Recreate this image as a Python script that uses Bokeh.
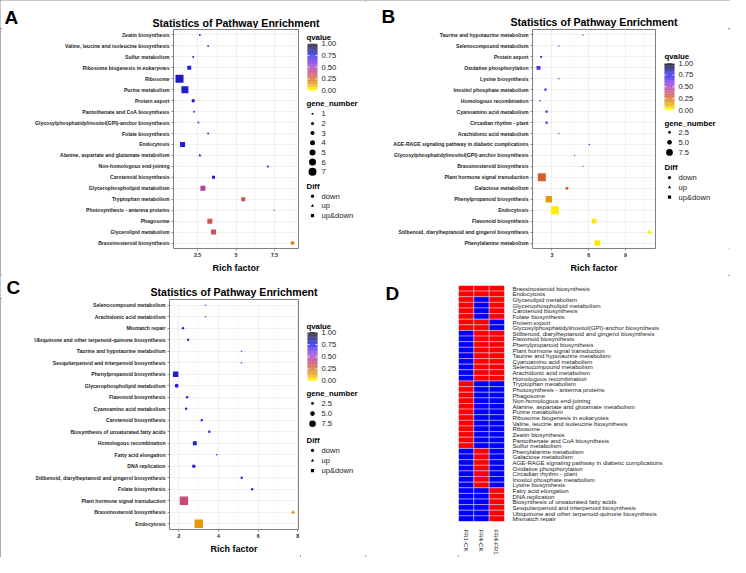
import math
import numpy as np
from bokeh.plotting import figure
from bokeh.models import Range1d, FixedTicker, ColumnDataSource, LinearInterpolator
from bokeh.transform import linear_cmap, factor_mark, transform
from bokeh.layouts import row, column
from bokeh.embed import file_html
from bokeh.resources import INLINE
from bokeh.core.properties import value

FONT = "Liberation Sans"
TITLE = "Statistics of Pathway Enrichment"
NOSHRINK = {"flex-shrink": "0", "flex-grow": "0"}

# ---------------- Panel A data ----------------
a_paths = ["Zeatin biosynthesis", "Valine, leucine and isoleucine biosynthesis", "Sulfur metabolism",
           "Ribosome biogenesis in eukaryotes", "Ribosome", "Purine metabolism", "Protein export",
           "Pantothenate and CoA biosynthesis", "Glycosylphosphatidylinositol(GPI)-anchor biosynthesis",
           "Folate biosynthesis", "Endocytosis", "Alanine, aspartate and glutamate metabolism",
           "Non-homologous end-joining", "Carotenoid biosynthesis", "Glycerophospholipid metabolism",
           "Tryptophan metabolism", "Photosynthesis - antenna proteins", "Phagosome",
           "Glycerolipid metabolism", "Brassinosteroid biosynthesis"]
a_rich = [2.65, 3.19, 2.22, 1.96, 1.33, 1.68, 2.22, 2.28, 2.56, 3.19, 1.53, 2.65, 7.07, 3.54, 2.85, 5.47, 7.48, 3.30, 3.54, 8.67]
a_genes = [1, 1, 1, 3, 7, 6, 2, 1, 1, 1, 4, 2, 1, 2, 4, 3, 1, 4, 4, 3]
a_q = [0.70, 0.64, 0.70, 0.76, 0.80, 0.79, 0.78, 0.66, 0.64, 0.68, 0.79, 0.77, 0.78, 0.77, 0.45, 0.33, 0.31, 0.33, 0.34, 0.18]
a_diff = ["down", "down", "down", "up&down", "up&down", "up&down", "up&down", "down", "down", "down",
          "up&down", "up", "down", "up&down", "up&down", "up&down", "up", "up&down", "up&down", "down"]
a_ticks = [2.5, 5.0, 7.5]
a_minor = [1.25, 3.75, 6.25, 8.75]
a_size_levels = [1, 2, 3, 4, 5, 6, 7]

# ---------------- Panel B data ----------------
b_paths = ["Taurine and hypotaurine metabolism", "Selenocompound metabolism", "Protein export",
           "Oxidative phosphorylation", "Lysine biosynthesis", "Inositol phosphate metabolism",
           "Homologous recombination", "Cyanoamino acid metabolism", "Circadian rhythm - plant",
           "Arachidonic acid metabolism", "AGE-RAGE signaling pathway in diabetic complications",
           "Glycosylphosphatidylinositol(GPI)-anchor biosynthesis", "Brassinosteroid biosynthesis",
           "Plant hormone signal transduction", "Galactose metabolism", "Phenylpropanoid biosynthesis",
           "Endocytosis", "Flavonoid biosynthesis", "Stilbenoid, diarylheptanoid and gingerol biosynthesis",
           "Phenylalanine metabolism"]
b_rich = [5.54, 3.57, 2.12, 1.91, 3.57, 2.48, 2.02, 2.57, 2.57, 3.57, 6.05, 4.86, 5.54, 2.18, 4.23, 2.75, 3.25, 6.44, 10.96, 6.71]
b_genes = [1, 1, 2, 4, 1, 2, 2, 2, 2, 1, 1, 1, 1, 9, 3, 7, 9, 5, 5, 6]
b_q = [0.64, 0.62, 0.68, 0.66, 0.62, 0.66, 0.68, 0.66, 0.66, 0.62, 0.74, 0.38, 0.38, 0.27, 0.27, 0.15, 0.02, 0.03, 0.03, 0.03]
b_diff = ["down", "down", "down", "up&down", "down", "up&down", "up", "up&down", "up&down", "down",
          "down", "down", "down", "up&down", "down", "up&down", "up&down", "up&down", "up", "up&down"]
b_ticks = [3, 6, 9]
b_minor = [1.5, 4.5, 7.5, 10.5]
b_size_levels = [2.5, 5.0, 7.5]

# ---------------- Panel C data ----------------
c_paths = ["Selenocompound metabolism", "Arachidonic acid metabolism", "Mismatch repair",
           "Ubiquinone and other terpenoid-quinone biosynthesis", "Taurine and hypotaurine metabolism",
           "Sesquiterpenoid and triterpenoid biosynthesis", "Phenylpropanoid biosynthesis",
           "Glycerophospholipid metabolism", "Flavonoid biosynthesis", "Cyanoamino acid metabolism",
           "Carotenoid biosynthesis", "Biosynthesis of unsaturated fatty acids", "Homologous recombination",
           "Fatty acid elongation", "DNA replication", "Stilbenoid, diarylheptanoid and gingerol biosynthesis",
           "Folate biosynthesis", "Plant hormone signal transduction", "Brassinosteroid biosynthesis",
           "Endocytosis"]
c_rich = [3.34, 3.34, 2.20, 2.46, 5.16, 5.16, 1.83, 1.88, 2.41, 2.36, 3.15, 3.53, 2.80, 3.91, 2.75, 5.17, 5.70, 2.25, 7.77, 3.00]
c_genes = [1, 1, 2, 2, 1, 1, 6, 4, 2, 2, 2, 2, 4, 1, 3, 2, 2, 10, 4, 10]
c_q = [0.62, 0.62, 0.76, 0.73, 0.60, 0.60, 0.79, 0.77, 0.76, 0.76, 0.76, 0.76, 0.78, 0.73, 0.78, 0.75, 0.74, 0.38, 0.17, 0.15]
c_diff = ["down", "down", "down", "down", "down", "down", "up&down", "down", "down", "down",
          "down", "down", "up&down", "down", "up&down", "down", "down", "up&down", "up", "up&down"]
c_ticks = [2, 4, 6, 8]
c_minor = [3, 5, 7]
c_size_levels = [2.5, 5.0, 7.5]

q_ticks = [1.00, 0.75, 0.50, 0.25, 0.00]
q_tick_labels = ["1.00", "0.75", "0.50", "0.25", "0.00"]
diff_levels = ["down", "up", "up&down"]
diff_markers = ["circle", "triangle", "square"]

# ---------------- Panel D data ----------------
d_rows = ["Brassinosteroid biosynthesis", "Endocytosis", "Glycerolipid metabolism", "Glycerophospholipid metabolism",
          "Carotenoid biosynthesis", "Folate biosynthesis", "Protein export",
          "Glycosylphosphatidylinositol(GPI)-anchor biosynthesis",
          "Stilbenoid, diarylheptanoid and gingerol biosynthesis", "Flavonoid biosynthesis",
          "Phenylpropanoid biosynthesis", "Plant hormone signal transduction", "Taurine and hypotaurine metabolism",
          "Cyanoamino acid metabolism", "Selenocompound metabolism", "Arachidonic acid metabolism",
          "Homologous recombination", "Tryptophan metabolism", "Photosynthesis - antenna proteins", "Phagosome",
          "Non-homologous end-joining", "Alanine, aspartate and glutamate metabolism", "Purine metabolism",
          "Ribosome biogenesis in eukaryotes", "Valine, leucine and isoleucine biosynthesis", "Ribosome",
          "Zeatin biosynthesis", "Pantothenate and CoA biosynthesis", "Sulfur metabolism",
          "Phenylalanine metabolism", "Galactose metabolism",
          "AGE-RAGE signaling pathway in diabetic complications", "Oxidative phosphorylation",
          "Circadian rhythm - plant", "Inositol phosphate metabolism", "Lysine biosynthesis",
          "Fatty acid elongation", "DNA replication", "Biosynthesis of unsaturated fatty acids",
          "Sesquiterpenoid and triterpenoid biosynthesis", "Ubiquinone and other terpenoid-quinone biosynthesis",
          "Mismatch repair"]
d_cols = ["FR1-CK", "FR4-CK", "FR4-FR1"]
d_fr1_ck = [1, 1, 1, 1, 1, 1, 1, 1, 0, 0, 0, 0, 0, 0, 0, 0, 0, 1, 1, 1, 1, 1, 1, 1, 1, 1, 1, 1, 1,
            0, 0, 0, 0, 0, 0, 0, 0, 0, 0, 0, 0, 0]
d_fr4_ck = [1, 1, 0, 0, 0, 0, 1, 1, 1, 1, 1, 1, 1, 1, 1, 1, 1, 0, 0, 0, 0, 0, 0, 0, 0, 0, 0, 0, 0,
            1, 1, 1, 1, 1, 1, 1, 0, 0, 0, 0, 0, 0]
d_fr4_fr1 = [1, 1, 1, 1, 1, 1, 0, 0, 1, 1, 1, 1, 1, 1, 1, 1, 1, 0, 0, 0, 0, 0, 0, 0, 0, 0, 0, 0, 0,
             0, 0, 0, 0, 0, 0, 0, 1, 1, 1, 1, 1, 1]

# ---------------- colour scale ----------------
stop_q = [0.0, 0.12, 0.27, 0.42, 0.57, 0.75, 0.9, 1.0]
stop_c = ["#FFFF00", "#E8A400", "#D2602C", "#C2428E", "#8A32E2", "#2020F0", "#1A1070", "#000000"]


def hex2rgb(h):
    return [int(h[i:i + 2], 16) for i in (1, 3, 5)]


def make_palette(n=256):
    rgbs = np.array([hex2rgb(c) for c in stop_c], dtype=float)
    t = np.linspace(0, 1, n)
    out = []
    for tt in t:
        r = np.interp(tt, stop_q, rgbs[:, 0])
        g = np.interp(tt, stop_q, rgbs[:, 1])
        b = np.interp(tt, stop_q, rgbs[:, 2])
        out.append("#%02x%02x%02x" % (int(round(r)), int(round(g)), int(round(b))))
    return out


PALETTE = make_palette()


def blank(W, H):
    # pixel-space helper canvas: x to the right, y measured downwards from the top edge
    f = figure(width=W, height=H, x_range=Range1d(0, W), y_range=Range1d(H, 0),
               output_backend="svg", toolbar_location=None,
               min_border_left=0, min_border_right=0, min_border_top=0, min_border_bottom=0,
               x_axis_location=None, y_axis_location=None, title_location=None, styles=NOSHRINK)
    f.grid.visible = False
    f.outline_line_color = None
    return f


def header(W, H, letter, lx, ly, title, tx, ty):
    h = blank(W, H)
    h.text(x=[lx], y=[ly], text=[letter], text_font=value(FONT), text_font_size=value("19px"),
           text_font_style="bold", text_baseline="bottom", text_align="left", text_color="#000000")
    if title:
        h.text(x=[tx], y=[ty], text=[title], text_font=value(FONT), text_font_size=value("10.6px"),
               text_font_style="bold", text_baseline="alphabetic", text_align="center", text_color="#000000")
    return h


def enrich_panel(paths, rich, genes, q, diff, xr, ticks, minor, size_lin, W, H, left, right, top, bottom):
    cats = list(reversed(paths))
    p = figure(width=W, height=H, y_range=cats, x_range=Range1d(*xr),
               output_backend="svg", toolbar_location=None, title_location=None,
               min_border_left=left, min_border_right=right,
               min_border_top=top, min_border_bottom=bottom, styles=NOSHRINK)
    src = ColumnDataSource(dict(path=paths, rich=rich, genes=genes, q=q, diff=diff))
    p.scatter(x="rich", y="path", source=src,
              size=transform("genes", LinearInterpolator(x=[0, 10], y=size_lin)),
              marker=factor_mark("diff", diff_markers, diff_levels),
              fill_color=linear_cmap("q", PALETTE, 0, 1),
              line_color=None)
    p.xaxis.ticker = FixedTicker(ticks=ticks, minor_ticks=minor)
    p.xgrid.grid_line_color = "#e6e6e6"
    p.xgrid.grid_line_width = 0.6
    p.xgrid.minor_grid_line_color = "#f2f2f2"
    p.xgrid.minor_grid_line_width = 0.5
    p.ygrid.grid_line_color = "#e6e6e6"
    p.ygrid.grid_line_width = 0.6
    p.outline_line_color = "#7f7f7f"
    p.outline_line_width = 1
    for ax in (p.xaxis, p.yaxis):
        ax.axis_line_color = None
        ax.major_tick_out = 2
        ax.major_tick_in = 0
        ax.minor_tick_out = 0
        ax.minor_tick_in = 0
        ax.major_tick_line_color = "#444444"
        ax.major_tick_line_width = 0.6
        ax.major_label_text_font = FONT
        ax.major_label_text_font_style = "bold"
        ax.major_label_text_color = "#1a1a1a"
        ax.major_label_standoff = 2
    p.yaxis.major_label_text_font_size = "5.1px"
    p.xaxis.major_label_text_font_size = "5.2px"
    p.xaxis.axis_label = "Rich factor"
    p.xaxis.axis_label_text_font = FONT
    p.xaxis.axis_label_text_font_size = "9px"
    p.xaxis.axis_label_text_font_style = "bold"
    p.xaxis.axis_label_text_color = "#000000"
    p.xaxis.axis_label_standoff = 3
    return p


def legend_panel(W, H, off, size_levels, size_lin, lay):
    lg = blank(W, H)
    tx, bx0, bx1, lx, sx = lay["tx"], lay["bx0"], lay["bx1"], lay["lx"], lay["sx"]
    b_top, b_bot = lay["bar"][0] - off, lay["bar"][1] - off
    n = 80
    edges = np.linspace(b_top, b_bot, n + 1)
    qs = np.linspace(1, 0, n)
    lg.quad(left="l", right="r", top="t", bottom="b",
            fill_color=linear_cmap("q", PALETTE, 0, 1), line_color=None,
            source=ColumnDataSource(dict(l=[bx0] * n, r=[bx1] * n, t=edges[:-1], b=edges[1:], q=qs)))
    ty = [b_top + (1 - t) * (b_bot - b_top) for t in q_ticks]
    w = (bx1 - bx0) * 0.2
    lg.segment(x0=[bx0] * 5, x1=[bx0 + w] * 5, y0=ty, y1=ty, line_color="white", line_width=0.8)
    lg.segment(x0=[bx1 - w] * 5, x1=[bx1] * 5, y0=ty, y1=ty, line_color="white", line_width=0.8)
    lg.text(x=[lx] * 5, y=ty, text=q_tick_labels, text_font=value(FONT), text_font_size=value("7.6px"),
            text_baseline="middle", text_align="left", text_color="#1a1a1a")
    titles = ["qvalue", "gene_number", "Diff"]
    lg.text(x=[tx] * 3, y=[lay["qt"] - off, lay["gt"] - off, lay["dt"] - off], text=titles,
            text_font=value(FONT), text_font_size=value("7.8px"), text_font_style="bold",
            text_baseline="middle", text_align="left", text_color="#000000")
    gy = [lay["g0"] - off + i * lay["gs"] for i in range(len(size_levels))]
    lg.scatter(x="x", y="y",
               size=transform("g", LinearInterpolator(x=[0, 10], y=size_lin)),
               marker="circle", fill_color="black", line_color=None,
               source=ColumnDataSource(dict(x=[sx] * len(size_levels), y=gy, g=size_levels)))
    glabels = [("%g" % s) if lay.get("int_labels") else ("%.1f" % s) for s in size_levels]
    lg.text(x=[lx] * len(size_levels), y=gy, text=glabels, text_font=value(FONT),
            text_font_size=value("7.6px"), text_baseline="middle", text_align="left", text_color="#1a1a1a")
    dy = [lay["d0"] - off + i * lay["ds"] for i in range(3)]
    lg.scatter(x="x", y="y", size=3.2, marker=factor_mark("d", diff_markers, diff_levels),
               fill_color="black", line_color=None,
               source=ColumnDataSource(dict(x=[sx] * 3, y=dy, d=diff_levels)))
    lg.text(x=[lx] * 3, y=dy, text=diff_levels, text_font=value(FONT), text_font_size=value("7.6px"),
            text_baseline="middle", text_align="left", text_color="#1a1a1a")
    return lg


# geometry
PW = 365
HA, HC = 275, 282
HDA, HDC = 28, 23
sizeA = [1.0, 11.0]
sizeB = [0.6, 8.8]
sizeC = [0.9, 8.4]

hA = header(PW, HDA, "A", 4, 27, TITLE, 173 + 62.5, 22)
pA = enrich_panel(a_paths, a_rich, a_genes, a_q, a_diff, (0.94, 9.06), a_ticks, a_minor, sizeA,
                  299, HA - HDA, 173, 1, 1, 24)
lA = legend_panel(66, HA - HDA, HDA, a_size_levels, sizeA,
                  dict(tx=7, bx0=8, bx1=18, lx=22, sx=13, bar=(44, 97), qt=37, gt=112, g0=123, gs=10.9,
                       dt=205, d0=216, ds=11, int_labels=True))

hB = header(PW, HDA, "B", 16, 26.5, TITLE, 167 + 61.5, 21.8)
pB = enrich_panel(b_paths, b_rich, b_genes, b_q, b_diff, (1.42, 11.45), b_ticks, b_minor, sizeB,
                  295, HA - HDA, 167, 5, 1, 24)
lB = legend_panel(70, HA - HDA, HDA, b_size_levels, sizeB,
                  dict(tx=4, bx0=4, bx1=14, lx=18, sx=9, bar=(66, 119), qt=59, gt=134, g0=144, gs=11.3,
                       dt=184, d0=195, ds=11))

hC = header(PW, HDC, "C", 6, 22.5, TITLE, 169 + 64.5, 16.5)
pC = enrich_panel(c_paths, c_rich, c_genes, c_q, c_diff, (1.52, 8.04), c_ticks, c_minor, sizeC,
                  300, HC - HDC, 169, 2, 1, 28)
lC = legend_panel(65, HC - HDC, HDC, c_size_levels, sizeC,
                  dict(tx=6, bx0=7, bx1=17, lx=21, sx=12, bar=(60, 114.7), qt=53, gt=129, g0=140, gs=11.5,
                       dt=182, d0=193, ds=11.4))

# heatmap D
hx, hy, hv = [], [], []
for ci, colvals in enumerate([d_fr1_ck, d_fr4_ck, d_fr4_fr1]):
    for r, v in zip(d_rows, colvals):
        hx.append(d_cols[ci])
        hy.append(r)
        hv.append(v)
dL = header(93, HC, "D", 20, 22, None, 0, 0)
pD = figure(width=PW - 93, height=HC, x_range=d_cols, y_range=list(reversed(d_rows)),
            output_backend="svg", toolbar_location=None, y_axis_location="right", title_location=None,
            min_border_left=0, min_border_right=226, min_border_top=10, min_border_bottom=27, styles=NOSHRINK)
pD.rect(x="c", y="r", width=1, height=1, source=ColumnDataSource(dict(c=hx, r=hy, v=hv)),
        fill_color=linear_cmap("v", ["#0000FF", "#FF0000"], 0, 1), line_color="#d8d8e8", line_width=0.5)
pD.grid.visible = False
pD.outline_line_color = None
for ax in (pD.xaxis, pD.yaxis):
    ax.axis_line_color = None
    ax.major_tick_line_color = None
    ax.minor_tick_line_color = None
    ax.major_label_text_font = FONT
    ax.major_label_text_font_size = "6.1px"
    ax.major_label_text_color = "#222222"
    ax.major_label_standoff = 2
pD.xaxis.major_label_orientation = -math.pi / 2

panelA = column(hA, row(pA, lA, spacing=0, styles=NOSHRINK), spacing=0, styles=NOSHRINK)
panelB = column(hB, row(pB, lB, spacing=0, styles=NOSHRINK), spacing=0, styles=NOSHRINK)
panelC = column(hC, row(pC, lC, spacing=0, styles=NOSHRINK), spacing=0, styles=NOSHRINK)
panelD = row(dL, pD, spacing=0, styles=NOSHRINK)

layout = column(row(panelA, panelB, spacing=0, styles=NOSHRINK),
                row(panelC, panelD, spacing=0, styles=NOSHRINK), spacing=0,
                styles={"outline": "2px solid #8c8c8c", "outline-offset": "-2px", "flex-shrink": "0"})

open("out.html", "w").write(file_html(layout, INLINE))
